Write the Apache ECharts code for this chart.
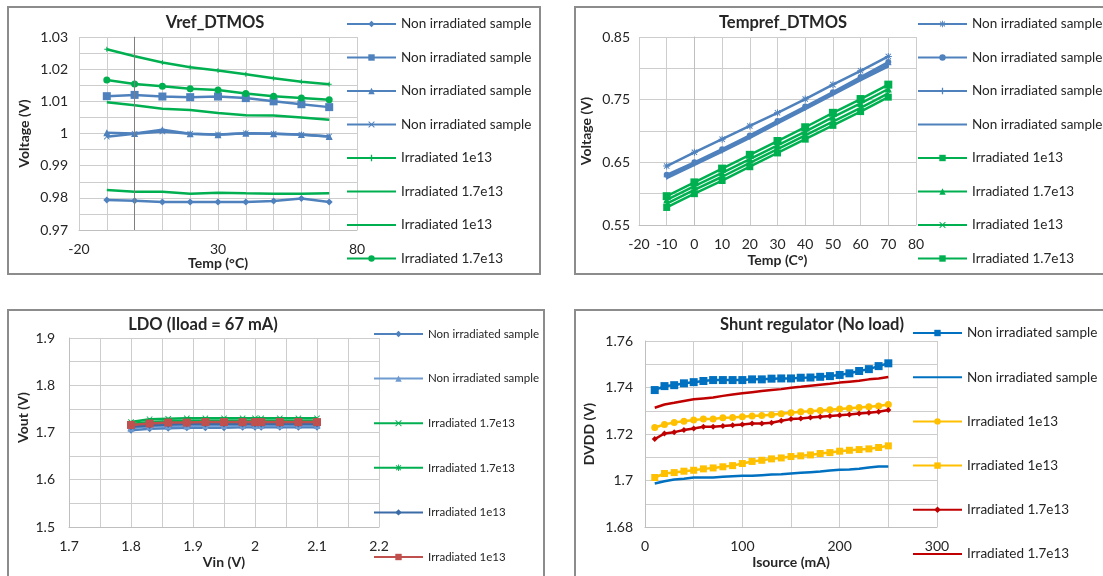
<!DOCTYPE html>
<html><head><meta charset="utf-8">
<script src="https://cdn.jsdelivr.net/npm/echarts@6/dist/echarts.min.js"></script>
<style>html,body{margin:0;padding:0;background:#fff}#c{width:1103px;height:576px}</style>
</head><body><div id="c"></div>
<script>
// ---------- DATA ----------
// Panel 1: Vref_DTMOS
const P1_TEMP = [-10, 0, 10, 20, 30, 40, 50, 60, 70];
const P1_NI_A = [0.9793, 0.9791, 0.9787, 0.9787, 0.9787, 0.9787, 0.9790, 0.9798, 0.9787];
const P1_NI_B = [1.0116, 1.0120, 1.0115, 1.0113, 1.0115, 1.0110, 1.0100, 1.0091, 1.0082];
const P1_NI_C = [1.0002, 1.0000, 1.0012, 0.9999, 0.9996, 1.0001, 0.9999, 0.9997, 0.9991];
const P1_NI_D = [0.9990, 0.9999, 1.0006, 0.9999, 0.9997, 1.0001, 0.9999, 0.9996, 0.9991];
const P1_IR_A = [1.0262, 1.0240, 1.0221, 1.0206, 1.0196, 1.0184, 1.0172, 1.0161, 1.0153];
const P1_IR_B = [0.9824, 0.9819, 0.9819, 0.9813, 0.9816, 0.9814, 0.9813, 0.9813, 0.9814];
const P1_IR_C = [1.0097, 1.0088, 1.0077, 1.0073, 1.0064, 1.0057, 1.0056, 1.0050, 1.0043];
const P1_IR_D = [1.0166, 1.0154, 1.0147, 1.0139, 1.0135, 1.0124, 1.0116, 1.0110, 1.0105];
const P1_LABELS = ['Non irradiated sample', 'Non irradiated sample', 'Non irradiated sample', 'Non irradiated sample',
  'Irradiated 1e13', 'Irradiated 1.7e13', 'Irradiated 1e13', 'Irradiated 1.7e13'];

// Panel 2: Tempref_DTMOS
const P2_TEMP = [-10, 0, 10, 20, 30, 40, 50, 60, 70];
const P2_NI_A = [0.644, 0.666, 0.687, 0.708, 0.729, 0.751, 0.774, 0.796, 0.819];
const P2_NI_B = [0.630, 0.650, 0.671, 0.693, 0.716, 0.739, 0.762, 0.786, 0.810];
const P2_NI_C = [0.627, 0.648, 0.669, 0.691, 0.714, 0.737, 0.760, 0.784, 0.806];
const P2_NI_D = [0.625, 0.646, 0.667, 0.689, 0.712, 0.735, 0.758, 0.781, 0.803];
const P2_IR_A = [0.596, 0.618, 0.640, 0.662, 0.684, 0.706, 0.729, 0.751, 0.774];
const P2_IR_B = [0.590, 0.612, 0.633, 0.655, 0.677, 0.699, 0.722, 0.744, 0.767];
const P2_IR_C = [0.584, 0.606, 0.627, 0.649, 0.671, 0.693, 0.715, 0.737, 0.760];
const P2_IR_D = [0.578, 0.600, 0.621, 0.643, 0.665, 0.687, 0.709, 0.731, 0.754];
const P2_LABELS = ['Non irradiated sample', 'Non irradiated sample', 'Non irradiated sample', 'Non irradiated sample',
  'Irradiated 1e13', 'Irradiated 1.7e13', 'Irradiated 1e13', 'Irradiated 1.7e13'];

// Panel 3: LDO (Iload = 67 mA)
const P3_VIN = [1.8, 1.83, 1.86, 1.89, 1.92, 1.95, 1.98, 2.0, 2.01, 2.04, 2.07, 2.1];
const P3_NI_A = [1.705, 1.708, 1.709, 1.710, 1.710, 1.710, 1.711, 1.711, 1.711, 1.711, 1.711, 1.711];
const P3_NI_B = [1.709, 1.713, 1.714, 1.714, 1.715, 1.715, 1.715, 1.715, 1.715, 1.715, 1.715, 1.715];
const P3_IR17_A = [1.722, 1.728, 1.729, 1.730, 1.730, 1.730, 1.730, 1.730, 1.730, 1.730, 1.730, 1.730];
const P3_IR17_B = [1.718, 1.722, 1.724, 1.725, 1.725, 1.725, 1.725, 1.725, 1.725, 1.725, 1.725, 1.725];
const P3_IR1_A = [1.712, 1.715, 1.717, 1.718, 1.718, 1.718, 1.718, 1.718, 1.718, 1.718, 1.718, 1.718];
const P3_IR1_B = [1.716, 1.719, 1.721, 1.721, 1.722, 1.722, 1.722, 1.722, 1.722, 1.722, 1.722, 1.722];
const P3_LABELS = ['Non irradiated sample', 'Non irradiated sample', 'Irradiated 1.7e13', 'Irradiated 1.7e13',
  'Irradiated 1e13', 'Irradiated 1e13'];

// Panel 4: Shunt regulator (No load)
const P4_ISRC = [10, 20, 30, 40, 50, 60, 70, 80, 90, 100, 110, 120, 130, 140, 150, 160, 170, 180, 190, 200, 210, 220, 230, 240, 250];
const P4_NI_A = [1.7389, 1.7406, 1.7410, 1.7418, 1.7423, 1.7428, 1.7432, 1.7432, 1.7432, 1.7432, 1.7435, 1.7435, 1.7438,
  1.7439, 1.7439, 1.7442, 1.7443, 1.7446, 1.7449, 1.7454, 1.7461, 1.7471, 1.7479, 1.7492, 1.7504];
const P4_NI_B = [1.6987, 1.6997, 1.7004, 1.7008, 1.7013, 1.7013, 1.7013, 1.7016, 1.7018, 1.7020, 1.7020, 1.7023, 1.7026,
  1.7027, 1.7030, 1.7033, 1.7036, 1.7039, 1.7043, 1.7046, 1.7047, 1.7051, 1.7056, 1.7060, 1.7060];
const P4_IR1_A = [1.7228, 1.7241, 1.7250, 1.7255, 1.7260, 1.7264, 1.7265, 1.7270, 1.7271, 1.7274, 1.7277, 1.7280, 1.7283,
  1.7287, 1.7291, 1.7296, 1.7298, 1.7301, 1.7304, 1.7308, 1.7311, 1.7314, 1.7317, 1.7320, 1.7327];
const P4_IR1_B = [1.7013, 1.7030, 1.7034, 1.7040, 1.7044, 1.7050, 1.7054, 1.7059, 1.7064, 1.7073, 1.7082, 1.7087, 1.7093,
  1.7097, 1.7103, 1.7106, 1.7110, 1.7116, 1.7120, 1.7126, 1.7130, 1.7133, 1.7136, 1.7142, 1.7149];
const P4_IR17_A = [1.7178, 1.7202, 1.7208, 1.7217, 1.7224, 1.7231, 1.7231, 1.7234, 1.7238, 1.7241, 1.7245, 1.7245, 1.7248,
  1.7257, 1.7264, 1.7267, 1.7271, 1.7274, 1.7277, 1.7281, 1.7284, 1.7288, 1.7291, 1.7296, 1.7303];
const P4_IR17_B = [1.7313, 1.7327, 1.7334, 1.7342, 1.7349, 1.7353, 1.7357, 1.7364, 1.7370, 1.7375, 1.7380, 1.7385, 1.7389,
  1.7393, 1.7399, 1.7403, 1.7408, 1.7412, 1.7416, 1.7421, 1.7425, 1.7429, 1.7435, 1.7439, 1.7445];
const P4_LABELS = ['Non irradiated sample', 'Non irradiated sample', 'Irradiated 1e13', 'Irradiated 1e13',
  'Irradiated 1.7e13', 'Irradiated 1.7e13'];

const TITLES = ['Vref_DTMOS', 'Tempref_DTMOS', 'LDO (Iload = 67 mA)', 'Shunt regulator (No load)'];
const X_NAMES = ['Temp (°C)', 'Temp (C°)', 'Vin (V)', 'Isource (mA)'];
const Y_NAMES = ['Voltage (V)', 'Voltage (V)', 'Vout (V)', 'DVDD (V)'];

// ---------- STYLES ----------
const FONT = 'Lato';
const TXT = '#262626';
const BLUE = '#4F81BD', GREEN = '#00B050', RED3 = '#C0504D';
const BLUE4 = '#0070C0', YEL = '#FFC000', RED4 = '#C00000';
const X_SYM = 'path://M1,0L5,4L9,0L10,1L6,5L10,9L9,10L5,6L1,10L0,9L4,5L0,1Z';
const PLUS_SYM = 'path://M4,0H6V4H10V6H6V10H4V6H0V4H4Z';
const STAR_SYM = 'path://M4.3,0H5.7V3.3L8.3,0.7L9.3,1.7L6.7,4.3H10V5.7H6.7L9.3,8.3L8.3,9.3L5.7,6.7V10H4.3V6.7L1.7,9.3L0.7,8.3L3.3,5.7H0V4.3H3.3L0.7,1.7L1.7,0.7L4.3,3.3Z';

const nameMap = {};
const noMarker = {};
const series = [];
function addLine(id, label, gi, xs, ys, color, symbol, size, extra) {
  nameMap[id] = label;
  noMarker[id] = symbol === 'none';
  const s = {
    name: id, type: 'line', xAxisIndex: gi, yAxisIndex: gi,
    data: xs.map((x, i) => [x, ys[i]]),
    symbol: symbol, symbolSize: size, showSymbol: symbol !== 'none',
    lineStyle: { color: color, width: 2.5 },
    itemStyle: { color: color },
    emphasis: { disabled: true }, silent: true
  };
  if (extra) Object.assign(s, extra);
  series.push(s);
  return id;
}

const L1 = [
  addLine('p1a', P1_LABELS[0], 0, P1_TEMP, P1_NI_A, BLUE, 'diamond', 7, {
    markLine: { silent: true, symbol: 'none', label: { show: false },
      lineStyle: { color: '#7f7f7f', width: 1, type: 'solid' }, data: [{ xAxis: 0 }] } }),
  addLine('p1b', P1_LABELS[1], 0, P1_TEMP, P1_NI_B, BLUE, 'rect', 8),
  addLine('p1c', P1_LABELS[2], 0, P1_TEMP, P1_NI_C, BLUE, 'triangle', 7),
  addLine('p1d', P1_LABELS[3], 0, P1_TEMP, P1_NI_D, BLUE, X_SYM, 6),
  addLine('p1e', P1_LABELS[4], 0, P1_TEMP, P1_IR_A, GREEN, PLUS_SYM, 5),
  addLine('p1f', P1_LABELS[5], 0, P1_TEMP, P1_IR_B, GREEN, 'none', 4),
  addLine('p1g', P1_LABELS[6], 0, P1_TEMP, P1_IR_C, GREEN, 'none', 4),
  addLine('p1h', P1_LABELS[7], 0, P1_TEMP, P1_IR_D, GREEN, 'circle', 7)
];
const L2 = [
  addLine('p2a', P2_LABELS[0], 1, P2_TEMP, P2_NI_A, BLUE, STAR_SYM, 7),
  addLine('p2b', P2_LABELS[1], 1, P2_TEMP, P2_NI_B, BLUE, 'circle', 6),
  addLine('p2c', P2_LABELS[2], 1, P2_TEMP, P2_NI_C, BLUE, PLUS_SYM, 6),
  addLine('p2d', P2_LABELS[3], 1, P2_TEMP, P2_NI_D, BLUE, 'none', 4),
  addLine('p2e', P2_LABELS[4], 1, P2_TEMP, P2_IR_A, GREEN, 'rect', 8),
  addLine('p2f', P2_LABELS[5], 1, P2_TEMP, P2_IR_B, GREEN, 'triangle', 7),
  addLine('p2g', P2_LABELS[6], 1, P2_TEMP, P2_IR_C, GREEN, X_SYM, 6),
  addLine('p2h', P2_LABELS[7], 1, P2_TEMP, P2_IR_D, GREEN, 'rect', 7)
];
const L3 = [
  addLine('p3a', P3_LABELS[0], 2, P3_VIN, P3_NI_A, BLUE, 'diamond', 7),
  addLine('p3b', P3_LABELS[1], 2, P3_VIN, P3_NI_B, '#6f9bd1', 'triangle', 7),
  addLine('p3c', P3_LABELS[2], 2, P3_VIN, P3_IR17_A, GREEN, X_SYM, 6),
  addLine('p3d', P3_LABELS[3], 2, P3_VIN, P3_IR17_B, GREEN, STAR_SYM, 6),
  addLine('p3e', P3_LABELS[4], 2, P3_VIN, P3_IR1_A, '#3c6ca8', 'diamond', 7),
  addLine('p3f', P3_LABELS[5], 2, P3_VIN, P3_IR1_B, RED3, 'rect', 8)
];
const L4 = [
  addLine('p4a', P4_LABELS[0], 3, P4_ISRC, P4_NI_A, BLUE4, 'rect', 8),
  addLine('p4b', P4_LABELS[1], 3, P4_ISRC, P4_NI_B, BLUE4, 'none', 4),
  addLine('p4c', P4_LABELS[2], 3, P4_ISRC, P4_IR1_A, YEL, 'circle', 7),
  addLine('p4d', P4_LABELS[3], 3, P4_ISRC, P4_IR1_B, YEL, 'rect', 7),
  addLine('p4e', P4_LABELS[4], 3, P4_ISRC, P4_IR17_A, RED4, 'diamond', 6),
  addLine('p4f', P4_LABELS[5], 3, P4_ISRC, P4_IR17_B, RED4, 'none', 4)
];

// ---------- LAYOUT ----------
const GRIDS = [
  { left: 79, top: 37, width: 278, height: 193 },
  { left: 639, top: 37, width: 277, height: 188 },
  { left: 69, top: 338, width: 310, height: 189 },
  { left: 645, top: 341, width: 292, height: 186 }
];
const fmtNum = v => String(parseFloat(v.toFixed(4)));

function axisCommon(gi) {
  return {
    type: 'value', gridIndex: gi,
    axisLine: { show: true, lineStyle: { color: '#BFBFBF', width: 1 } },
    axisTick: { show: false },
    splitLine: { show: true, lineStyle: { color: '#CDCDCD', width: 1 } },
    nameLocation: 'middle',
    nameTextStyle: { fontFamily: FONT, fontWeight: 'bold', fontSize: 14, color: TXT },
    axisLabel: { fontFamily: FONT, fontSize: 14, color: TXT }
  };
}
function mkX(gi, min, max, interval, show, name, gap, margin) {
  const a = axisCommon(gi);
  Object.assign(a, { min, max, interval, name, nameGap: gap });
  a.axisLabel.margin = margin;
  a.axisLabel.formatter = v => show(v) ? fmtNum(v) : '';
  return a;
}
function mkY(gi, min, max, interval, show, name, gap, margin, pad) {
  const a = axisCommon(gi);
  Object.assign(a, { min, max, interval, name, nameGap: gap });
  if (pad) a.nameTextStyle.padding = pad;
  a.axisLabel.margin = margin;
  a.axisLabel.formatter = v => show(v) ? fmtNum(v) : '';
  return a;
}

const xAxis = [
  mkX(0, -20, 80, 10, v => Math.round(v + 20) % 50 === 0, X_NAMES[0], 25, 12),
  mkX(1, -20, 80, 10, v => true, X_NAMES[1], 28, 12),
  mkX(2, 1.7, 2.2, 0.05, v => Math.round(v * 100) % 10 === 0, X_NAMES[2], 28, 12),
  mkX(3, 0, 300, 50, v => Math.round(v) % 100 === 0, X_NAMES[3], 28, 12)
];
const yAxis = [
  mkY(0, 0.97, 1.03, 0.005, v => Math.round(v * 1000) % 10 === 0, Y_NAMES[0], 48, 11),
  mkY(1, 0.55, 0.85, 0.05, v => Math.round((v - 0.55) * 100) % 10 === 0, Y_NAMES[1], 46, 9),
  mkY(2, 1.5, 1.9, 0.05, v => Math.round(v * 100) % 10 === 0, Y_NAMES[2], 39, 14, [0, 0, 0, 30]),
  mkY(3, 1.68, 1.76, 0.01, v => Math.round(v * 100) % 2 === 0, Y_NAMES[3], 49, 12)
];

const HIDE_MARK = { color: 'rgba(0,0,0,0)', borderColor: 'rgba(0,0,0,0)', borderWidth: 0 };
function mkLegend(ids, left, top, gap, fs) {
  return {
    data: ids.map(id => noMarker[id] ? { name: id, itemStyle: HIDE_MARK } : id),
    orient: 'vertical', left, top, itemGap: gap,
    itemWidth: 49, itemHeight: 8, selectedMode: false,
    formatter: n => nameMap[n],
    textStyle: { fontFamily: FONT, fontSize: fs, color: TXT, lineHeight: 14 }
  };
}
const legend = [
  mkLegend(L1, 341, 12, 19.5, 13.5),
  mkLegend(L2, 912, 12, 19.5, 13.5),
  mkLegend(L3, 368, 322, 30.6, 11.5),
  mkLegend(L4, 907, 321, 30.2, 13.5)
];

const title = [
  { text: TITLES[0], left: 215, top: 14 },
  { text: TITLES[1], left: 783, top: 14 },
  { text: TITLES[2], left: 203, top: 316 },
  { text: TITLES[3], left: 812, top: 316 }
].map(t => Object.assign(t, {
  textAlign: 'center', padding: 0,
  textStyle: { fontFamily: FONT, fontWeight: 'bold', fontSize: 16.5, color: TXT }
}));

const BORDERS = [[8, 7, 532, 267], [575, 7, 545, 267], [8, 310, 536, 290], [575, 310, 545, 290]];
const graphic = BORDERS.map(b => ({
  type: 'rect', silent: true, z: -10,
  shape: { x: b[0], y: b[1], width: b[2], height: b[3] },
  style: { fill: '#fff', stroke: '#8c8c8c', lineWidth: 2 }
}));

const chart = echarts.init(document.getElementById('c'), null, { renderer: 'canvas' });
chart.setOption({
  animation: false, backgroundColor: '#ffffff',
  graphic, title, legend, grid: GRIDS, xAxis, yAxis, series
});
</script></body></html>
